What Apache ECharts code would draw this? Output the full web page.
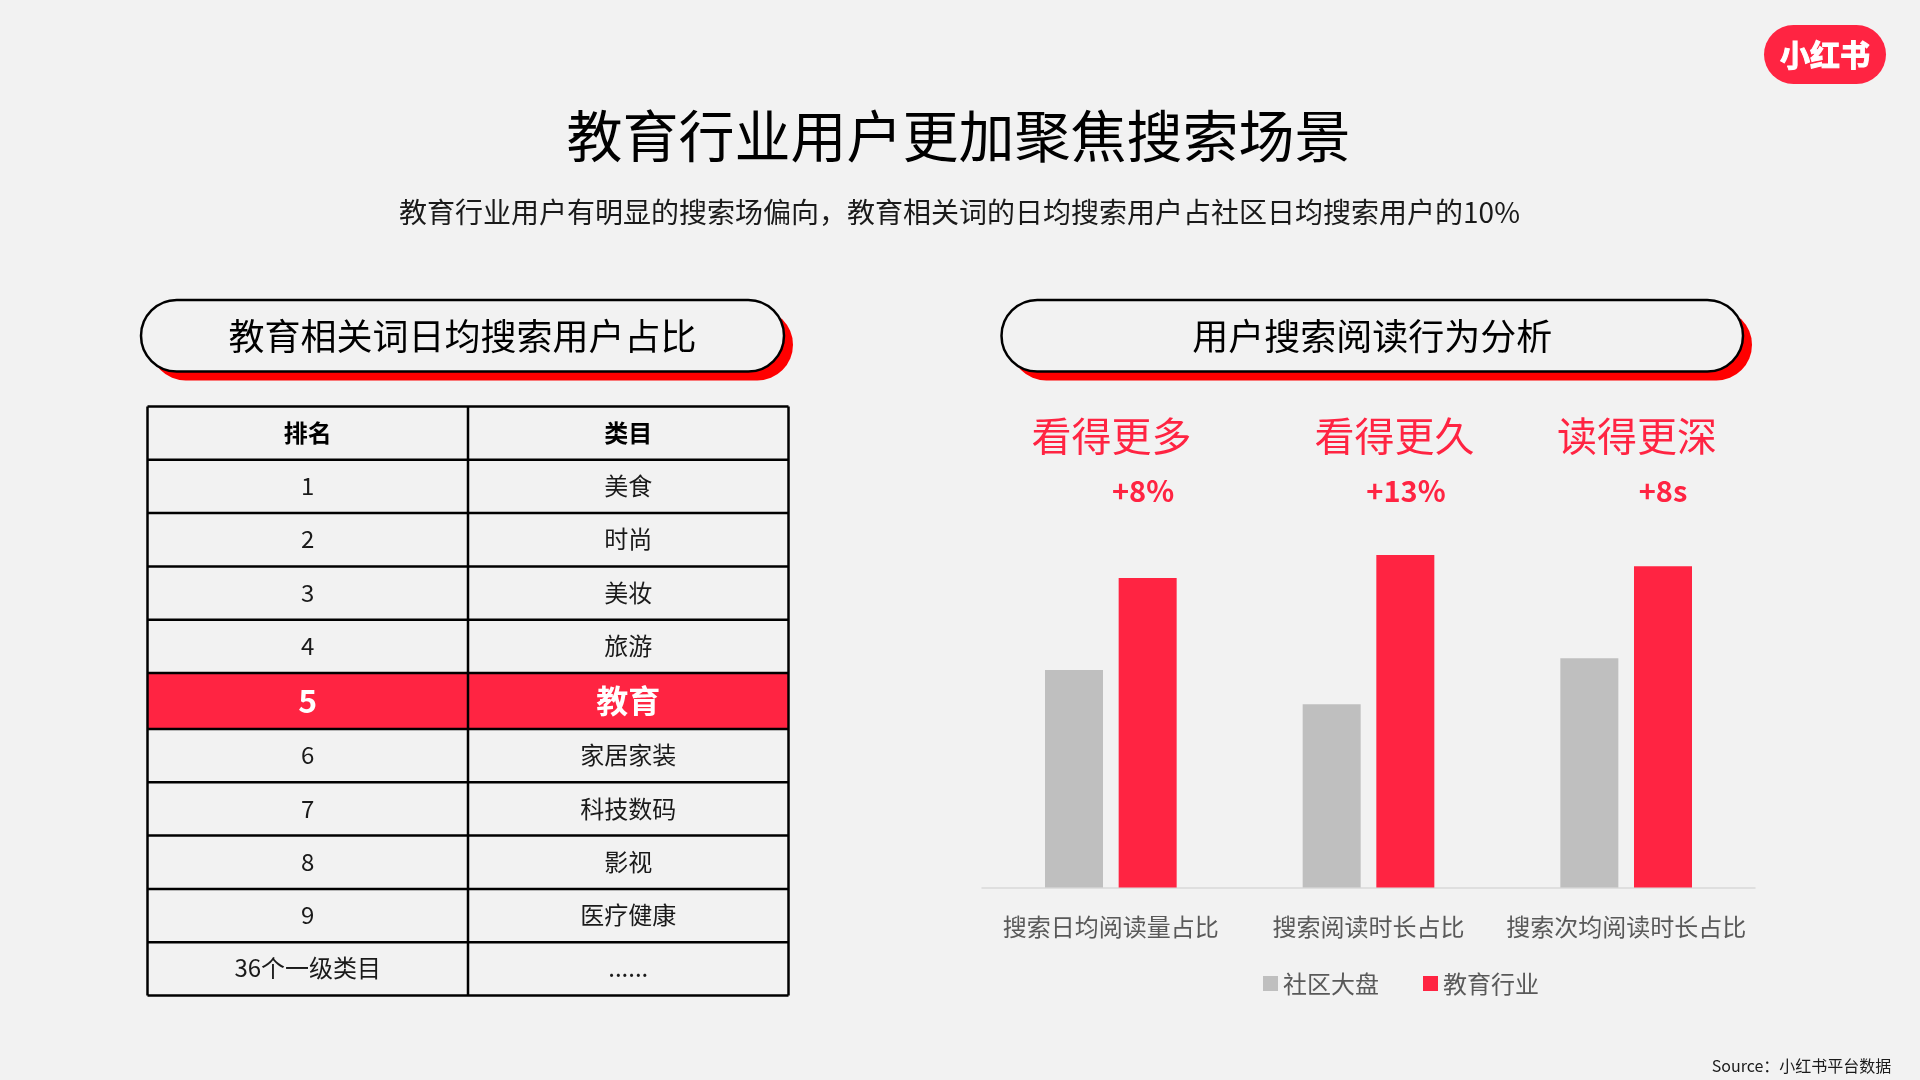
<!DOCTYPE html>
<html>
 <head>
  <meta charset="utf-8">
  <title>教育行业用户更加聚焦搜索场景</title>
  <script src="https://cdn.jsdelivr.net/npm/echarts@6/dist/echarts.min.js"></script>
  <style>
    html, body, #container {
    width: 1920px;
    height: 1080px;
    margin: 0;
    padding: 0;
    background: #f2f2f2;
    }
  </style>
 </head>
 <body>
  <div id="container"></div>
  <script>
    // chart data, bar values (no axis in the original, scale 0-100)
    const barCategories = ['搜索日均阅读量占比', '搜索阅读时长占比', '搜索次均阅读时长占比'];
    const communityValues = [54.4, 45.8, 57.3];
    const educationValues = [77.4, 83.1, 80.3];
    const seriesNames = ['社区大盘', '教育行业'];
    const calloutTitles = ['看得更多', '看得更久', '读得更深'];
    const calloutDeltas = ['+8%', '+13%', '+8s'];

    // ranking table
    const tableHeader = ['排名', '类目'];
    const tableRanks = ['1', '2', '3', '4', '5', '6', '7', '8', '9', '36个一级类目'];
    const tableCategories = ['美食', '时尚', '美妆', '旅游', '教育', '家居家装', '科技数码', '影视', '医疗健康', '......'];
    const highlightRank = '5';

    const FONT = '"Noto Sans CJK SC", "Noto Sans", sans-serif';
    const RED = '#ff2442';
    const GREY = '#bfbfbf';

    function text(str, x, y, size, color, weight) {
      return {
        type: 'text', z: 10,
        style: {
          text: str, x: x, y: y, fill: color, align: 'center', verticalAlign: 'middle',
          font: (weight || 'normal') + ' ' + size + 'px ' + FONT
        }
      };
    }

    function pill(x, y, w, h, label) {
      return [
        { type: 'rect', z: 1, shape: { x: x + 9, y: y + 9, width: w, height: h, r: h / 2 }, style: { fill: '#ff0000' } },
        { type: 'rect', z: 2, shape: { x: x, y: y, width: w, height: h, r: h / 2 }, style: { fill: '#f2f2f2', stroke: '#000', lineWidth: 2.5 } },
        text(label, x + w / 2, y + h / 2 + 1, 36, '#000')
      ];
    }

    function line(x1, y1, x2, y2) {
      return { type: 'line', z: 5, shape: { x1: x1, y1: y1, x2: x2, y2: y2 }, style: { stroke: '#000', lineWidth: 2.5 } };
    }

    function buildTable() {
      const left = 147.5, mid = 468, right = 788.5, top = 406.5;
      const rowH = 53.3, hiH = 56;
      const out = [];
      let y = top + rowH;
      out.push(line(left, top, right, top));
      out.push(text(tableHeader[0], (left + mid) / 2, top + rowH / 2, 24, '#000', 'bold'));
      out.push(text(tableHeader[1], (mid + right) / 2, top + rowH / 2, 24, '#000', 'bold'));
      out.push(line(left, y, right, y));
      tableRanks.forEach(function (rank, i) {
        const hi = rank === highlightRank;
        const h = hi ? hiH : rowH;
        if (hi) {
          out.push({ type: 'rect', z: 3, shape: { x: left, y: y, width: right - left, height: h }, style: { fill: RED } });
        }
        const color = hi ? '#fff' : '#1a1a1a';
        const size = hi ? 32 : 24;
        const weight = hi ? 'bold' : 'normal';
        out.push(text(rank, (left + mid) / 2, y + h / 2 - 0.5, size, color, weight));
        out.push(text(tableCategories[i], (mid + right) / 2, y + h / 2 - 0.5, size, color, weight));
        y += h;
        out.push(line(left, y, right, y));
      });
      out.push(line(left, top, left, y));
      out.push(line(mid, top, mid, y));
      out.push(line(right, top, right, y));
      return out;
    }

    const calloutX = [1111.5, 1394.5, 1637];
    const deltaX = [1143, 1406, 1663];
    const callouts = [];
    calloutTitles.forEach(function (t, i) {
      callouts.push(text(t, calloutX[i], 435.5, 40, RED));
      callouts.push(text(calloutDeltas[i], deltaX[i], 491, 29, RED, 'bold'));
    });

    const logoText = text('小红书', 1825, 55, 30, '#fff', 'bold');
    logoText.style.stroke = '#fff';
    logoText.style.lineWidth = 1;
    const logo = [
      { type: 'rect', z: 1, shape: { x: 1764, y: 25, width: 122, height: 59, r: 29.5 }, style: { fill: RED } },
      logoText
    ];

    var chartDom = document.getElementById('container');
    var myChart = echarts.init(chartDom);
    var option = {
      backgroundColor: '#f2f2f2',
      animation: false,
      textStyle: { fontFamily: FONT },
      grid: { left: 982, width: 773, top: 487.5, height: 400 },
      xAxis: {
        type: 'category',
        data: barCategories,
        axisLine: { lineStyle: { color: '#d9d9d9', width: 1.5 } },
        axisTick: { show: false },
        axisLabel: { color: '#595959', fontSize: 24, margin: 27.5, fontFamily: FONT, interval: 0 }
      },
      yAxis: { type: 'value', min: 0, max: 100, show: false },
      legend: {
        left: 1258, top: 966.5,
        icon: 'rect', itemWidth: 15, itemHeight: 15, itemGap: 44,
        data: seriesNames,
        textStyle: { color: '#595959', fontSize: 24, fontFamily: FONT }
      },
      series: [
        { name: seriesNames[0], type: 'bar', data: communityValues, barWidth: 58, barGap: '27%', itemStyle: { color: GREY } },
        { name: seriesNames[1], type: 'bar', data: educationValues, barWidth: 58, itemStyle: { color: RED } }
      ],
      graphic: { elements: [
        text('教育行业用户更加聚焦搜索场景', 958.5, 136, 56, '#000'),
        text('教育行业用户有明显的搜索场偏向，教育相关词的日均搜索用户占社区日均搜索用户的10%', 959.5, 212, 28, '#1a1a1a'),
        text('Source：小红书平台数据', 1801.5, 1065.5, 16, '#1a1a1a')
      ].concat(pill(141, 300, 643, 71.5, '教育相关词日均搜索用户占比'))
       .concat(pill(1001.5, 300, 741.5, 71.5, '用户搜索阅读行为分析'))
       .concat(buildTable(), callouts, logo) }
    };
    option && myChart.setOption(option);
  </script>
 </body>
</html>
